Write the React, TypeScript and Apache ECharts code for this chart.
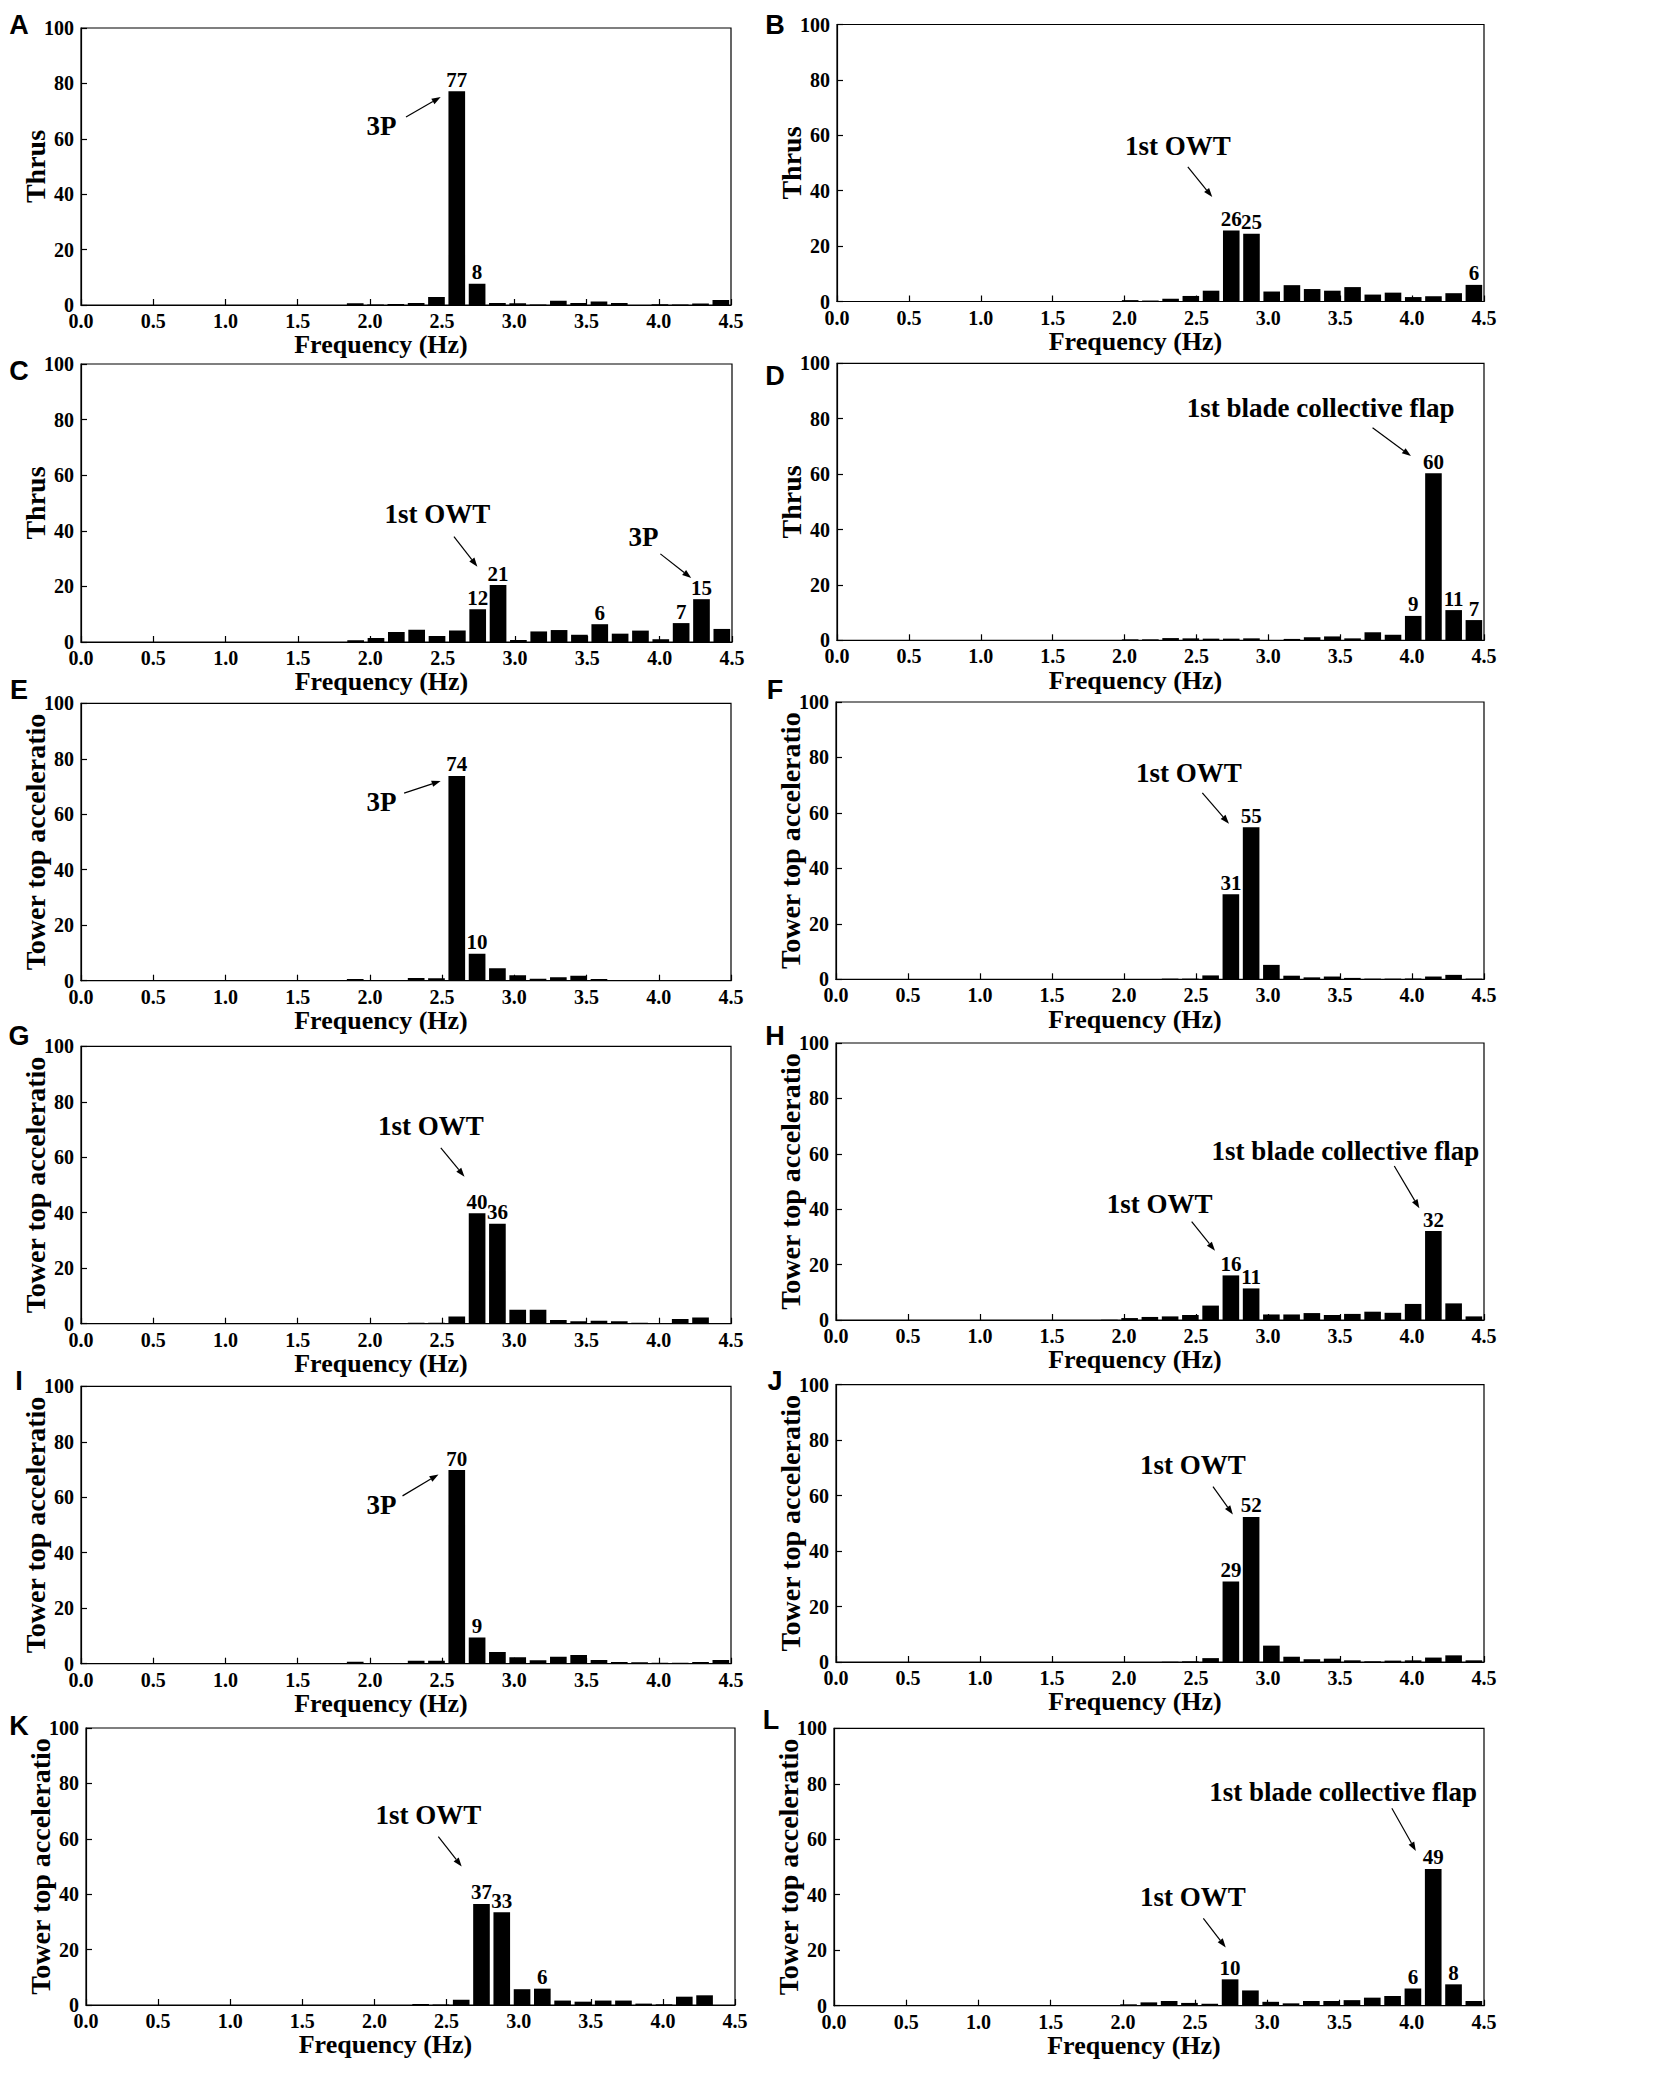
import React, { useEffect, useRef } from "react";
import * as echarts from "echarts";

// ---------- data ----------
const BIN_COUNT = 32;
const FREQ_MAX = 4.5;
// category = centre frequency of each of the 32 spectral bins (0 – 4.5 Hz)
const FREQ_BINS = Array.from({ length: BIN_COUNT }, (_, i) => ((i + 0.5) * FREQ_MAX / BIN_COUNT).toFixed(3));

const PANEL_IDS = ["A", "B", "C", "D", "E", "F", "G", "H", "I", "J", "K", "L"];
const Y_TITLES = [
  "Thrus", "Thrus", "Thrus", "Thrus",
  "Tower top acceleratio", "Tower top acceleratio", "Tower top acceleratio", "Tower top acceleratio",
  "Tower top acceleratio", "Tower top acceleratio", "Tower top acceleratio", "Tower top acceleratio",
];
const X_TITLE = "Frequency (Hz)";

const VALUES_A = [0, 0, 0, 0, 0, 0, 0, 0, 0, 0, 0, 0, 0, 0.6, 0.2, 0.4, 0.7, 2.9, 77.2, 7.7, 0.7, 0.6, 0.15, 1.5, 0.7, 1.3, 0.7, 0, 0.3, 0.2, 0.5, 1.8];
const VALUES_B = [0, 0, 0, 0, 0, 0, 0, 0, 0, 0, 0, 0, 0, 0.1, 0.5, 0.35, 1.0, 2.0, 3.9, 25.6, 24.5, 3.6, 5.9, 4.5, 3.9, 5.2, 2.5, 3.2, 1.6, 1.9, 3.0, 6.0];
const VALUES_C = [0, 0, 0, 0, 0, 0, 0, 0, 0, 0, 0, 0, 0, 0.6, 1.4, 3.6, 4.4, 2.2, 4.1, 11.8, 20.5, 0.7, 3.8, 4.3, 2.6, 6.4, 3.0, 4.1, 1.0, 6.8, 15.4, 4.7];
const VALUES_D = [0, 0, 0, 0, 0, 0, 0, 0, 0, 0, 0, 0, 0, 0.1, 0.35, 0.35, 0.8, 0.7, 0.6, 0.6, 0.7, 0.1, 0.5, 1.1, 1.4, 0.7, 2.9, 2.0, 8.8, 60.3, 10.9, 7.3];
const VALUES_E = [0, 0, 0, 0, 0, 0, 0, 0, 0, 0, 0, 0, 0.1, 0.6, 0, 0.05, 1.0, 0.85, 73.8, 9.7, 4.5, 2.0, 0.7, 1.2, 1.8, 0.6, 0.25, 0.05, 0.05, 0, 0, 0.1];
const VALUES_F = [0, 0, 0, 0, 0, 0, 0, 0, 0, 0, 0, 0, 0, 0, 0.05, 0.1, 0.25, 0.25, 1.4, 30.7, 54.8, 5.2, 1.3, 0.7, 1.0, 0.5, 0.25, 0.25, 0.3, 1.0, 1.6, 0.25];
const VALUES_G = [0, 0, 0, 0, 0, 0, 0, 0, 0, 0, 0, 0, 0, 0, 0.05, 0.05, 0.35, 0.35, 2.6, 39.8, 36.0, 5.0, 5.0, 1.3, 0.85, 1.1, 0.85, 0.35, 0.25, 1.7, 2.2, 0];
const VALUES_H = [0, 0, 0, 0, 0, 0, 0, 0, 0, 0, 0, 0, 0, 0.1, 0.7, 1.1, 1.3, 1.8, 5.2, 16.1, 11.4, 2.0, 2.0, 2.5, 1.8, 2.2, 3.0, 2.6, 5.8, 32.1, 6.0, 1.3];
const VALUES_I = [0, 0, 0, 0, 0, 0, 0, 0, 0, 0, 0, 0, 0, 0.7, 0.1, 0, 1.1, 1.1, 69.8, 9.4, 4.2, 2.3, 1.2, 2.5, 3.1, 1.3, 0.6, 0.5, 0.35, 0.35, 0.6, 1.3];
const VALUES_J = [0, 0, 0, 0, 0, 0, 0, 0, 0, 0, 0, 0, 0, 0, 0, 0, 0.1, 0.25, 1.4, 29.0, 52.3, 5.9, 1.9, 1.0, 1.2, 0.6, 0.25, 0.5, 0.6, 1.6, 2.4, 0.6];
const VALUES_K = [0, 0, 0, 0, 0, 0, 0, 0, 0, 0, 0, 0, 0, 0, 0, 0, 0.35, 0.2, 1.9, 36.5, 33.5, 5.7, 5.9, 1.6, 1.2, 1.6, 1.6, 0.5, 0.25, 3.0, 3.5, 0];
const VALUES_L = [0, 0, 0, 0, 0, 0, 0, 0, 0, 0, 0, 0, 0, 0.25, 0.5, 1.2, 1.7, 1.0, 0.7, 9.5, 5.5, 1.4, 0.85, 1.7, 1.7, 2.0, 2.9, 3.5, 6.2, 49.3, 7.7, 1.7];
const ALL_VALUES = [VALUES_A, VALUES_B, VALUES_C, VALUES_D, VALUES_E, VALUES_F, VALUES_G, VALUES_H, VALUES_I, VALUES_J, VALUES_K, VALUES_L];

// [bin index, label text]
const LABELS_A: [number, string][] = [[18, "77"], [19, "8"]];
const LABELS_B: [number, string][] = [[19, "26"], [20, "25"], [31, "6"]];
const LABELS_C: [number, string][] = [[19, "12"], [20, "21"], [25, "6"], [29, "7"], [30, "15"]];
const LABELS_D: [number, string][] = [[28, "9"], [29, "60"], [30, "11"], [31, "7"]];
const LABELS_E: [number, string][] = [[18, "74"], [19, "10"]];
const LABELS_F: [number, string][] = [[19, "31"], [20, "55"]];
const LABELS_G: [number, string][] = [[19, "40"], [20, "36"]];
const LABELS_H: [number, string][] = [[19, "16"], [20, "11"], [29, "32"]];
const LABELS_I: [number, string][] = [[18, "70"], [19, "9"]];
const LABELS_J: [number, string][] = [[19, "29"], [20, "52"]];
const LABELS_K: [number, string][] = [[19, "37"], [20, "33"], [22, "6"]];
const LABELS_L: [number, string][] = [[19, "10"], [28, "6"], [29, "49"], [30, "8"]];
const ALL_LABELS = [LABELS_A, LABELS_B, LABELS_C, LABELS_D, LABELS_E, LABELS_F, LABELS_G, LABELS_H, LABELS_I, LABELS_J, LABELS_K, LABELS_L];

// annotations in data coordinates: [text, textFreq, textValue, arrowFromFreq, arrowFromValue, arrowToFreq, arrowToValue]
type Ann = [string, number, number, number, number, number, number];
const NOTES_A: Ann[] = [["3P", 2.08, 64.5, 2.25, 67.9, 2.49, 75.1]];
const NOTES_B: Ann[] = [["1st OWT", 2.37, 56.1, 2.44, 48.6, 2.61, 37.7]];
const NOTES_C: Ann[] = [["1st OWT", 2.463, 46, 2.578, 37.9, 2.74, 27.1], ["3P", 3.888, 37.6, 4.005, 31.7, 4.218, 23.0]];
const NOTES_D: Ann[] = [["1st blade collective flap", 3.364, 84.0, 3.725, 76.7, 3.992, 66.5]];
const NOTES_E: Ann[] = [["3P", 2.081, 64.5, 2.237, 67.6, 2.49, 72.0]];
const NOTES_F: Ann[] = [["1st OWT", 2.45, 74.4, 2.544, 67.2, 2.729, 56.1]];
const NOTES_G: Ann[] = [["1st OWT", 2.422, 71.3, 2.491, 63.4, 2.655, 53.0]];
const NOTES_H: Ann[] = [["1st blade collective flap", 3.538, 61.1, 3.877, 55.6, 4.051, 40.3], ["1st OWT", 2.247, 41.8, 2.47, 35.5, 2.632, 25.0]];
const NOTES_I: Ann[] = [["3P", 2.08, 57.1, 2.226, 60.5, 2.475, 68.2]];
const NOTES_J: Ann[] = [["1st OWT", 2.479, 70.9, 2.618, 63.2, 2.756, 53.2]];
const NOTES_K: Ann[] = [["1st OWT", 2.374, 68.7, 2.443, 60.8, 2.605, 50.0]];
const NOTES_L: Ann[] = [["1st blade collective flap", 3.525, 76.9, 3.862, 71.2, 4.028, 55.8], ["1st OWT", 2.484, 39.3, 2.557, 31.5, 2.712, 21.0]];
const ALL_NOTES = [NOTES_A, NOTES_B, NOTES_C, NOTES_D, NOTES_E, NOTES_F, NOTES_G, NOTES_H, NOTES_I, NOTES_J, NOTES_K, NOTES_L];

// ---------- layout (pixels) ----------
const GRID_BOXES = [
  [81, 28, 650, 277], [837, 24.5, 647, 277],
  [81, 364, 651, 278], [837, 363.3, 647, 277],
  [81, 703.3, 650, 277.4], [836, 702, 648, 277.3],
  [81, 1046.3, 650, 277.4], [836, 1043, 648, 277],
  [81, 1386.3, 650, 277.4], [836, 1384.6, 648, 277.4],
  [86, 1728, 649, 277], [834, 1728.3, 650, 277.4],
];
const LETTER_POS = [
  [19, 25], [775, 25], [19, 371], [775, 376], [19, 690], [775, 690],
  [19, 1036], [775, 1036], [19, 1381], [775, 1381], [19, 1726], [771, 1720],
];

const SERIF = "Liberation Serif";
const SANS = "Liberation Sans";

function buildOption() {
  const grid: any[] = [];
  const xAxis: any[] = [];
  const yAxis: any[] = [];
  const series: any[] = [];
  PANEL_IDS.forEach((_, p) => {
    const [l, t, w, h] = GRID_BOXES[p];
    grid.push({ left: l, top: t, width: w, height: h, show: true, borderColor: "#000", borderWidth: 1.2, backgroundColor: "transparent" });
    xAxis.push({ type: "category", gridIndex: p, data: FREQ_BINS, show: false, boundaryGap: true });
    xAxis.push({
      type: "value", gridIndex: p, min: 0, max: FREQ_MAX, interval: 0.5, position: "bottom",
      axisLine: { show: true, onZero: false, lineStyle: { color: "#000", width: 1.2 } },
      axisTick: { show: true, inside: true, length: 6, lineStyle: { color: "#000", width: 1.2 } },
      axisLabel: { formatter: (v: number) => v.toFixed(1), fontFamily: SERIF, fontWeight: "bold", fontSize: 20, color: "#000", margin: 6 },
      splitLine: { show: false },
      name: X_TITLE, nameLocation: "middle", nameGap: 26,
      nameTextStyle: { fontFamily: SERIF, fontWeight: "bold", fontSize: 26, color: "#000", padding: [0, 50, 0, 0] },
    });
    yAxis.push({
      type: "value", gridIndex: p, min: 0, max: 100, interval: 20,
      axisLine: { show: true, lineStyle: { color: "#000", width: 1.2 } },
      axisTick: { show: true, inside: true, length: 6, lineStyle: { color: "#000", width: 1.2 } },
      axisLabel: { fontFamily: SERIF, fontWeight: "bold", fontSize: 20, color: "#000", margin: 7 },
      splitLine: { show: false },
      name: Y_TITLES[p], nameLocation: "middle", nameGap: 32, nameMoveOverlap: false,
      nameTextStyle: { fontFamily: SERIF, fontWeight: "bold", fontSize: 28, color: "#000" },
    });
    const labels = ALL_LABELS[p];
    series.push({
      type: "bar", xAxisIndex: 2 * p, yAxisIndex: p, barCategoryGap: "18%",
      itemStyle: { color: "#000" },
      label: { show: false, position: "top", distance: 1, fontFamily: SERIF, fontWeight: "bold", fontSize: 21, color: "#000" },
      data: ALL_VALUES[p].map((v, i) => {
        const lab = labels.find((x) => x[0] === i);
        return lab ? { value: v, label: { show: true, formatter: lab[1] } } : v;
      }),
    });
  });
  return { animation: false, backgroundColor: "#fff", grid, xAxis, yAxis, series };
}

function buildGraphic(chart: echarts.ECharts) {
  const els: any[] = [];
  PANEL_IDS.forEach((id, p) => {
    const [lx, ly] = LETTER_POS[p];
    els.push({
      type: "text", x: lx, y: ly,
      style: { text: id, fontFamily: SANS, fontWeight: "bold", fontSize: 27, fill: "#000", align: "center", verticalAlign: "middle", textAlign: "center", textVerticalAlign: "middle" },
    });
    const finder = { xAxisIndex: 2 * p + 1, yAxisIndex: p };
    ALL_NOTES[p].forEach((n) => {
      const [text, tx, ty, fx, fy, ex, ey] = n;
      const tp = chart.convertToPixel(finder as any, [tx, ty]) as number[];
      const a = chart.convertToPixel(finder as any, [fx, fy]) as number[];
      const b = chart.convertToPixel(finder as any, [ex, ey]) as number[];
      els.push({
        type: "text", x: tp[0], y: tp[1],
        style: { text, fontFamily: SERIF, fontWeight: "bold", fontSize: 27, fill: "#000", align: "center", verticalAlign: "middle", textAlign: "center", textVerticalAlign: "middle" },
      });
      const dx = b[0] - a[0], dy = b[1] - a[1];
      const len = Math.hypot(dx, dy) || 1;
      const ux = dx / len, uy = dy / len;
      const L = 9, W = 3.2;
      const bx = b[0] - ux * L, by = b[1] - uy * L;
      els.push({ type: "line", shape: { x1: a[0], y1: a[1], x2: bx, y2: by }, style: { stroke: "#000", lineWidth: 1.2 } });
      els.push({
        type: "polygon",
        shape: { points: [[b[0], b[1]], [bx - uy * W, by + ux * W], [bx + uy * W, by - ux * W]] },
        style: { fill: "#000" },
      });
    });
  });
  return els;
}

export default function App() {
  const ref = useRef<HTMLDivElement>(null);
  useEffect(() => {
    if (!ref.current) return;
    const chart = echarts.init(ref.current, undefined, { renderer: "svg" });
    chart.setOption(buildOption());
    chart.setOption({ graphic: buildGraphic(chart) });
    return () => chart.dispose();
  }, []);
  return <div ref={ref} style={{ position: "absolute", left: 0, top: 0, width: 1654, height: 2082, background: "#fff" }} />;
}
